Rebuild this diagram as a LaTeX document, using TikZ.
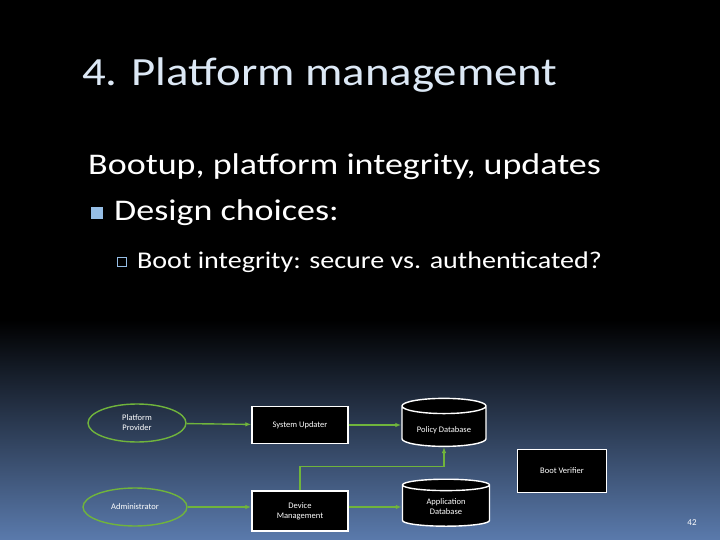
\documentclass[tikz,border=0pt]{standalone}
\usepackage{fontspec}
\setmainfont{Carlito}
\usetikzlibrary{shapes.geometric,arrows.meta}
\definecolor{slidetop}{RGB}{0,0,0}
\definecolor{slidebot}{RGB}{90,122,172}
\definecolor{titlecol}{RGB}{220,232,245}
\definecolor{edgegreen}{RGB}{112,180,60}
\definecolor{bulletblue}{RGB}{150,190,230}
\tikzset{
  actor/.style={ellipse, draw=edgegreen, line width=1.4pt, minimum width=98pt, minimum height=38pt, text=white, font=\fontsize{8.5}{10}\selectfont, align=center},
  proc/.style={rectangle, draw=white, line width=1.4pt, fill=black, minimum width=96pt, minimum height=37pt, text=white, font=\fontsize{8.5}{10}\selectfont, align=center},
  store/.style={cylinder, shape border rotate=90, aspect=0.25, draw=white, line width=1.4pt, fill=black, minimum width=84pt, minimum height=48pt, text=white, font=\fontsize{8.5}{10}\selectfont, align=center},
  flow/.style={-{Latex[length=6pt]}, edgegreen, line width=1.4pt}
}
\begin{document}
\begin{tikzpicture}[x=1pt,y=-1pt]
  % background
  \useasboundingbox (0,0) rectangle (720,540);
  \fill[slidetop] (0,0) rectangle (720,320);
  \shade[top color=slidetop, bottom color=slidebot] (0,320) rectangle (720,540);
  % title and bullets
  \node[anchor=west, text=titlecol, font=\fontsize{40}{42}\selectfont, xscale=1.17] (title) at (78,75) {4. Platform management};
  \node[anchor=west, text=white, font=\fontsize{30}{32}\selectfont, xscale=1.2] (line1) at (84,167) {Bootup, platform integrity, updates};
  \fill[bulletblue] (91,207) rectangle (103,219);
  \node[anchor=west, text=white, font=\fontsize{30}{32}\selectfont, xscale=1.2] (line2) at (110,213) {Design choices:};
  \draw[bulletblue] (117,257) rectangle (126,266);
  \node[anchor=west, text=white, font=\fontsize{24}{26}\selectfont, xscale=1.17] (line3) at (133,262) {Boot integrity: secure vs. authenticated?};
  % diagram
  \node[actor] (provider) at (137,423) {Platform\\Provider};
  \node[actor, minimum width=104pt] (admin) at (135,507) {Administrator};
  \node[proc] (updater) at (300,425) {System Updater};
  \node[proc, minimum height=40pt] (devmgmt) at (300,511) {Device\\Management};
  \node[store] (policy) at (444,428) {\\Policy Database};
  \node[store, minimum width=87pt, minimum height=47pt] (appdb) at (446,507) {Application\\Database};
  \node[proc, minimum width=89pt, minimum height=43pt] (verifier) at (562,471) {Boot Verifier};
  \draw[flow] (provider) -- (updater);
  \draw[flow] (updater) -- (policy.west |- updater);
  \draw[flow] (admin) -- (devmgmt.west |- admin);
  \draw[flow] (devmgmt.east |- appdb.west) -- (appdb.west);
  \draw[flow] (devmgmt.north) -- ++(0,-24) -| (policy.bottom);
  % page number
  \node[text=white, font=\fontsize{9}{10}\selectfont] (page) at (692,523) {42};
\end{tikzpicture}
\end{document}
